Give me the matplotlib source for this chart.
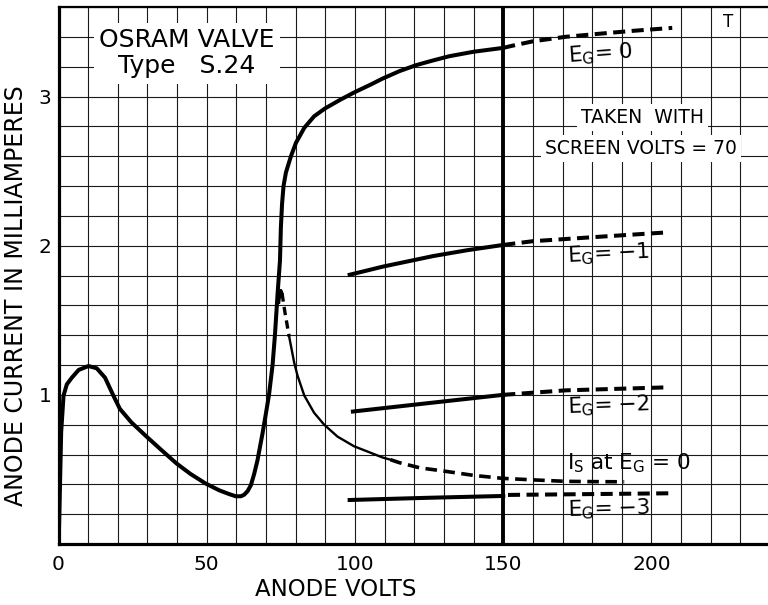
import numpy as np
import matplotlib.pyplot as plt

# Curva principal: corriente de anodo con Eg = 0
eg0_x = [0.05, 0.4, 0.9, 1.7, 2.8, 4.5, 6.8, 10.1, 12.9, 15.7, 18.5, 20.7, 24.6, 29.7,
         34.7, 39.8, 44.5, 49.5, 54.2, 57.5, 59.8, 61.5, 62.6, 63.8, 64.9, 66.0, 67.1,
         68.8, 70.0, 71.0, 72.2, 73.0, 73.9, 74.7, 75.0, 75.4, 75.9, 76.7, 78.4, 80.1,
         82.9, 86.2, 89.9, 95.2, 100, 105.3, 109.3, 115, 120.6, 126, 131.8, 140, 150]
eg0_y = [0, 0.3, 0.75, 0.995, 1.07, 1.115, 1.167, 1.193, 1.178, 1.115, 0.995, 0.906,
         0.815, 0.72, 0.63, 0.54, 0.47, 0.407, 0.36, 0.335, 0.32, 0.32, 0.33, 0.355,
         0.395, 0.47, 0.56, 0.74, 0.88, 1.0, 1.2, 1.40, 1.68, 1.90, 2.12, 2.28, 2.4,
         2.49, 2.6, 2.69, 2.79, 2.867, 2.92, 2.98, 3.03, 3.08, 3.12, 3.17, 3.21, 3.24,
         3.27, 3.30, 3.326]
eg0_dx = [150, 153, 160, 171, 182, 193.6, 207]
eg0_dy = [3.326, 3.34, 3.37, 3.40, 3.42, 3.44, 3.46]

# Eg = -1
eg1_x = [98.2, 109.5, 126.3, 138, 150]
eg1_y = [1.805, 1.86, 1.93, 1.97, 2.005]
eg1_dx = [150, 160, 182.6, 206]
eg1_dy = [2.005, 2.03, 2.06, 2.09]

# Eg = -2
eg2_x = [99.3, 125, 150]
eg2_y = [0.888, 0.945, 1.0]
eg2_dx = [150, 171, 205]
eg2_dy = [1.0, 1.03, 1.05]

# Eg = -3
eg3_x = [98.2, 125, 150]
eg3_y = [0.295, 0.31, 0.322]
eg3_dx = [151.6, 206.5]
eg3_dy = [0.329, 0.34]

# Corriente de pantalla Is con Eg = 0
is_pk_x = [74.3, 74.7, 75.0, 75.4]
is_pk_y = [1.62, 1.68, 1.70, 1.68]
is_d1_x = [75.4, 76.4, 77.8]
is_d1_y = [1.68, 1.55, 1.39]
is_x = [77.8, 79.5, 80.6, 82.9, 86.2, 89.6, 94.1, 99.7, 104.2, 109.3, 112]
is_y = [1.39, 1.215, 1.13, 0.995, 0.88, 0.80, 0.72, 0.655, 0.62, 0.58, 0.565]
is_dx = [112, 115, 122, 129.6, 140, 149.8, 160, 171, 181, 190.8]
is_dy = [0.565, 0.545, 0.51, 0.49, 0.46, 0.44, 0.43, 0.42, 0.418, 0.417]

x_ticks = [0, 50, 100, 150, 200]
y_ticks = [1, 2, 3]

fig = plt.figure(figsize=(7.68, 6.05), dpi=100)
ax = fig.add_axes([58.5 / 768, 61 / 605, (768 - 58.5) / 768, 537 / 605])

ax.set_xlim(0, 239.3)
ax.set_ylim(0, 3.6)

# Rejilla
ax.set_xticks(x_ticks)
ax.set_xticklabels([str(v) for v in x_ticks])
ax.set_xticks(np.arange(0, 240, 10), minor=True)
ax.set_yticks(y_ticks)
ax.set_yticklabels([str(v) for v in y_ticks])
ax.set_yticks(np.arange(0, 3.61, 0.2), minor=True)
ax.grid(which='both', color='#1a1a1a', linewidth=0.8)
ax.set_axisbelow(True)
ax.tick_params(which='both', length=0)
ax.tick_params(axis='x', pad=8, labelsize=14.5)
ax.tick_params(axis='y', pad=5, labelsize=14.5)

for s in ['left', 'bottom']:
    ax.spines[s].set_linewidth(2.3)
ax.spines['top'].set_linewidth(1.6)
ax.spines['right'].set_visible(False)

ax.axvline(150, color='black', linewidth=2.8)

lw = 2.9
dash = (3, 1.6)
ax.plot(eg0_x, eg0_y, color='black', linewidth=lw, solid_capstyle='round',
        solid_joinstyle='round')
ax.plot(eg0_dx, eg0_dy, color='black', linewidth=lw, dashes=dash)
ax.plot(eg1_x, eg1_y, color='black', linewidth=lw)
ax.plot(eg1_dx, eg1_dy, color='black', linewidth=lw, dashes=dash)
ax.plot(eg2_x, eg2_y, color='black', linewidth=lw)
ax.plot(eg2_dx, eg2_dy, color='black', linewidth=lw, dashes=dash)
ax.plot(eg3_x, eg3_y, color='black', linewidth=lw)
ax.plot(eg3_dx, eg3_dy, color='black', linewidth=lw, dashes=dash)

ax.plot(is_pk_x, is_pk_y, color='black', linewidth=2.2)
ax.plot(is_d1_x, is_d1_y, color='black', linewidth=2.4, dashes=(2.5, 1.6))
ax.plot(is_x, is_y, color='black', linewidth=1.7, solid_joinstyle='round')
ax.plot(is_dx, is_dy, color='black', linewidth=2.6, dashes=(3.2, 1.8))

# Etiquetas de las curvas
lab = dict(fontsize=15.5, va='baseline', ha='left')
ax.text(171.5, 3.23, r'E$_\mathrm{G}$= 0', rotation=4, **lab)
ax.text(171.5, 1.886, r'E$_\mathrm{G}$= −1', rotation=3, **lab)
ax.text(171.5, 0.877, r'E$_\mathrm{G}$= −2', rotation=2, **lab)
ax.text(171.4, 0.497, r'I$_\mathrm{S}$ at E$_\mathrm{G}$ = 0', **lab)
ax.text(171.5, 0.183, r'E$_\mathrm{G}$= −3', rotation=1.5, **lab)

white = dict(facecolor='white', edgecolor='none', pad=3)
ax.text(43.3, 3.29, 'OSRAM VALVE\nType   S.24', fontsize=18, ha='center', va='center',
        linespacing=1.1, bbox=dict(facecolor='white', edgecolor='none', pad=4))
ax.text(197, 2.86, 'TAKEN  WITH', fontsize=13.5, ha='center', va='center', bbox=white)
ax.text(196.5, 2.65, 'SCREEN VOLTS = 70', fontsize=13.5, ha='center', va='center', bbox=white)
ax.text(225.8, 3.497, 'T', fontsize=12, ha='center', va='center')

fig.text(336 / 768, 1 - 589 / 605, 'ANODE VOLTS', fontsize=16.5, ha='center', va='center')
fig.text(16 / 768, 1 - 296 / 605, 'ANODE CURRENT IN MILLIAMPERES', fontsize=17,
         rotation=90, ha='center', va='center')

fig.savefig('out.png', dpi=100)
